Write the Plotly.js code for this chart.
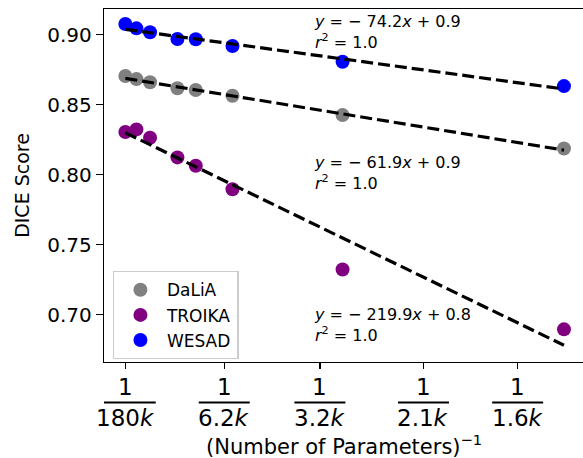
<!DOCTYPE html>
<html>
<head>
<meta charset="utf-8">
<script src="https://cdn.plot.ly/plotly-3.0.1.min.js"></script>
<style>html,body{margin:0;padding:0;background:#fff;}#chart{width:583px;height:458px;}</style>
</head>
<body>
<div id="chart"></div>
<script>
// ---- data (x = 1 / number of parameters) ----
const invParams = [5.0e-6, 2.25e-5, 4.40e-5, 8.73e-5, 1.163e-4, 1.743e-4, 3.483e-4, 6.982e-4];
const datasets = ['DaLiA', 'TROIKA', 'WESAD'];
const daliaDice  = [0.8704, 0.8682, 0.8659, 0.8616, 0.8604, 0.8563, 0.8425, 0.8187];
const troikaDice = [0.8304, 0.8323, 0.8263, 0.8123, 0.8063, 0.7896, 0.7323, 0.6896];
const wesadDice  = [0.9075, 0.9044, 0.9016, 0.8968, 0.8966, 0.8918, 0.8806, 0.8632];
const fitSlope     = [-73.9, -218.8, -61.45];
const fitIntercept = [0.8691, 0.8310, 0.9040];
const eqLabels = ['<i>y</i> = − 74.2<i>x</i> + 0.9<br><i>r</i><sup>2</sup> = 1.0',
                  '<i>y</i> = − 61.9<i>x</i> + 0.9<br><i>r</i><sup>2</sup> = 1.0',
                  '<i>y</i> = − 219.9<i>x</i> + 0.8<br><i>r</i><sup>2</sup> = 1.0'];
const eqY = [0.9015, 0.8015, 0.6925];
const eqX = 3.0e-4;
const tickParams = [180000, 6200, 3200, 2100, 1600];
const tickLabels = ['180', '6.2', '3.2', '2.1', '1.6'];
const xTitle = '(Number of Parameters)<sup>−1</sup>';
const yTitle = 'DICE Score';

const colors = ['#808080', '#800080', '#0000ff'];
const series = [daliaDice, troikaDice, wesadDice];
const font = 'DejaVu Sans, sans-serif';

const traces = [];
series.forEach((ys, i) => {
  traces.push({
    x: invParams, y: ys, type: 'scatter', mode: 'markers', name: datasets[i],
    marker: {color: colors[i], size: 14, line: {width: 0}}
  });
});
series.forEach((ys, i) => {
  const x0 = invParams[0], x1 = invParams[invParams.length - 1];
  traces.push({
    x: [x0, x1], y: [fitIntercept[i] + fitSlope[i] * x0, fitIntercept[i] + fitSlope[i] * x1],
    type: 'scatter', mode: 'lines', showlegend: false, hoverinfo: 'skip',
    line: {color: 'black', width: 3.2, dash: '12px,5px'}
  });
});

const tickVals = tickParams.map(p => 1 / p);
const annotations = [];
const shapes = [];
tickVals.forEach((v, i) => {
  annotations.push({x: v, xref: 'x', y: 0, yref: 'paper', yanchor: 'middle', yshift: -25,
    text: '1', showarrow: false, font: {family: font, size: 23, color: 'black'}});
  annotations.push({x: v, xref: 'x', y: 0, yref: 'paper', yanchor: 'middle', yshift: -56,
    text: tickLabels[i] + '<i>k</i>', showarrow: false, font: {family: font, size: 23, color: 'black'}});
  const half = tickLabels[i].includes('.') ? 25.5 : 30;
  shapes.push({type: 'line', xref: 'x', xsizemode: 'pixel', xanchor: v, x0: -half, x1: half,
    yref: 'paper', ysizemode: 'pixel', yanchor: 0, y0: -40.5, y1: -40.5,
    line: {color: 'black', width: 2}});
});
eqLabels.forEach((t, i) => {
  annotations.push({x: eqX, xref: 'x', y: eqY[i], yref: 'y', xanchor: 'left', yanchor: 'middle',
    align: 'left', text: t, showarrow: false, font: {family: font, size: 16, color: 'black'}});
});
annotations.push({x: 0.5, xref: 'paper', y: 0, yref: 'paper', yanchor: 'middle', yshift: -83,
  text: xTitle, showarrow: false, font: {family: font, size: 21, color: 'black'}});

const layout = {
  width: 583, height: 458,
  margin: {l: 104, r: 0, t: 9, b: 96},
  paper_bgcolor: 'white', plot_bgcolor: 'white',
  font: {family: font, color: 'black'},
  showlegend: true,
  legend: {x: 0.018, y: 0.258, xanchor: 'left', yanchor: 'top',
    bgcolor: 'rgba(255,255,255,0.8)', bordercolor: '#cccccc', borderwidth: 1.3,
    font: {family: font, size: 17, color: 'black'}, itemwidth: 43},
  xaxis: {
    range: [-2.876e-5, 7.283e-4], tickmode: 'array', tickvals: tickVals, showticklabels: false,
    ticks: 'outside', ticklen: 6, tickwidth: 1.3, tickcolor: 'black',
    showline: true, linecolor: 'black', linewidth: 1.3, mirror: true,
    showgrid: false, zeroline: false
  },
  yaxis: {
    range: [0.66629, 0.91821], tickmode: 'array', tickvals: [0.70, 0.75, 0.80, 0.85, 0.90],
    ticktext: ['0.70', '0.75', '0.80', '0.85', '0.90'],
    ticks: 'outside', ticklen: 7, tickwidth: 1.3, tickcolor: 'black',
    tickfont: {family: font, size: 20, color: 'black'},
    showline: true, linecolor: 'black', linewidth: 1.3, mirror: false,
    showgrid: false, zeroline: false,
    title: {text: yTitle, font: {family: font, size: 19, color: 'black'}, standoff: 12}
  },
  annotations: annotations,
  shapes: shapes
};

Plotly.newPlot('chart', traces, layout, {staticPlot: true, displayModeBar: false});
</script>
</body>
</html>
